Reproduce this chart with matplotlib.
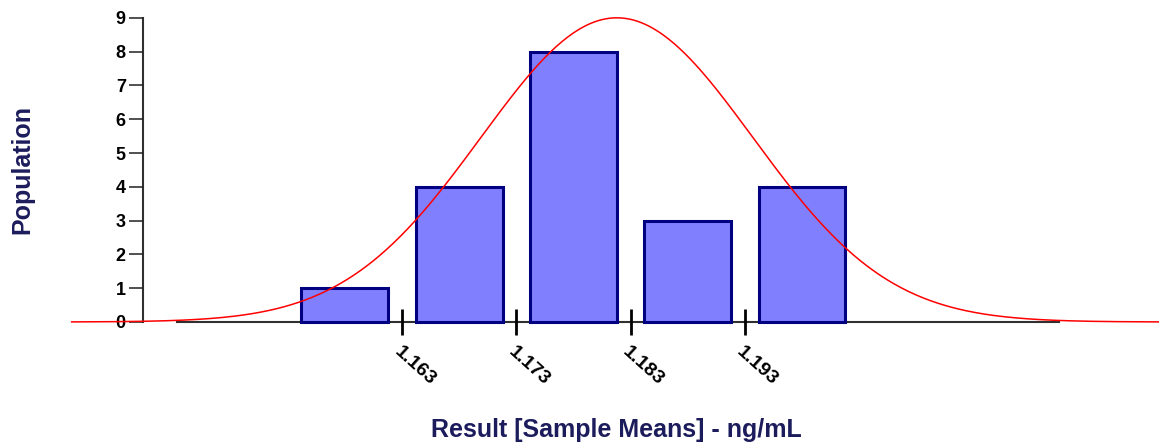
import numpy as np
import matplotlib
matplotlib.use('Agg')
import matplotlib.pyplot as plt

# Histogram of sample means with fitted normal curve

bin_centers = [1.158, 1.168, 1.178, 1.188, 1.198]
counts = [1, 4, 8, 3, 4]
tick_values = [1.163, 1.173, 1.183, 1.193]
tick_labels = ['1.163', '1.173', '1.183', '1.193']
y_ticks = [0, 1, 2, 3, 4, 5, 6, 7, 8, 9]

# fitted normal curve
curve_mean = 1.1818
curve_sd = 0.0119
curve_peak = 9.0
curve_start = 1.1341
curve_end = 1.2292

bin_width = 0.01
NAVY = '#000080'
LABEL = '#1c1c5c'


def main():
    plt.rcParams['font.family'] = ['Liberation Sans Narrow', 'Liberation Sans', 'DejaVu Sans']

    fig = plt.figure(figsize=(11.59, 4.48), dpi=100)
    ax = fig.add_axes([0, 0, 1, 1])
    ax.patch.set_alpha(0)

    # axes span the whole figure, limits chosen from the pixel scale
    ax.set_xlim(1.12783, 1.22923)
    ax.set_ylim(-3.728, 9.527)

    ax.bar(bin_centers, counts, width=bin_width * 0.76, color='#8080ff',
           edgecolor=NAVY, linewidth=2.2, zorder=2)

    xs = np.linspace(curve_start, curve_end, 600)
    ys = curve_peak * np.exp(-0.5 * ((xs - curve_mean) / curve_sd) ** 2)
    ax.plot(xs, ys, color='#ff0000', linewidth=1.1, zorder=3, clip_on=False)

    for side in ['top', 'right']:
        ax.spines[side].set_visible(False)
    ax.spines['left'].set_position(('data', 1.1403))
    ax.spines['left'].set_bounds(0, 9)
    ax.spines['bottom'].set_position(('data', 0))
    ax.spines['bottom'].set_bounds(1.1433, 1.2205)
    for side in ['left', 'bottom']:
        ax.spines[side].set_color('#303030')
        ax.spines[side].set_linewidth(1.5)
        ax.spines[side].set_zorder(1)

    ax.set_yticks(y_ticks)
    ax.set_yticklabels([str(v) for v in y_ticks], fontsize=13, fontweight='bold')
    ax.tick_params(axis='y', direction='out', length=10, width=1.1, pad=2, color='#202020')

    ax.set_xticks(tick_values)
    ax.set_xticklabels(tick_labels, fontsize=14, fontweight='bold',
                       rotation=-42, ha='left', va='top', rotation_mode='anchor')
    ax.tick_params(axis='x', direction='inout', length=19, width=2.0, pad=6, color='black')

    fig.text(616 / 1159, 1 - 430 / 448, 'Result [Sample Means] - ng/mL', color=LABEL,
             fontsize=18, fontweight='bold', ha='center', va='center',
             family=['Liberation Sans', 'DejaVu Sans'])
    fig.text(22 / 1159, 1 - 170 / 448, 'Population', color=LABEL, rotation=90,
             fontsize=18, fontweight='bold', ha='center', va='center',
             family=['Liberation Sans', 'DejaVu Sans'])

    fig.savefig('out.png', dpi=100)


if __name__ == "__main__":
    main()
